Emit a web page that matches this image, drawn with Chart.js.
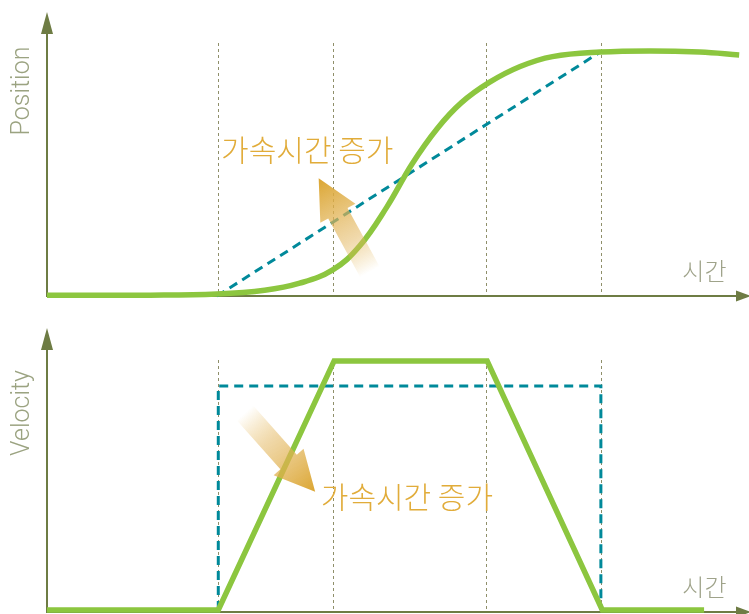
<!DOCTYPE html>
<html>
<head>
<meta charset="utf-8">
<script src="https://cdn.jsdelivr.net/npm/chart.js@4"></script>
<style>
  html,body{margin:0;padding:0;background:#fff;}
  #wrap{position:relative;width:749px;height:614px;overflow:hidden;}
  canvas{position:absolute;left:0;}
</style>
</head>
<body>
<div id="wrap">
  <canvas id="top" width="749" height="320" style="top:0"></canvas>
  <canvas id="bot" width="749" height="298" style="top:316px"></canvas>
</div>
<script>
// ---- data (time t: 0..100, value: 0..100) ----
const markerTimes = [24.3, 40.7, 62.5, 78.9];

const posCurveT = [0, 14.7, 24.2, 31.0, 36.0, 40.7, 44.5, 48.4, 52.0, 55.6, 59.0, 63.0, 67.4, 72.0, 78.8, 86.0, 93.0, 98.6];
const posCurveV = [0.3, 0.3, 0.7, 2.0, 4.5, 9.2, 17.5, 31.3, 46.5, 59.0, 68.0, 75.2, 80.8, 84.3, 85.9, 86.3, 85.9, 84.9];

const posLinearT = [24.2, 78.8];
const posLinearV = [0, 85.9];

const velTrapT = [0, 24.4, 40.9, 62.7, 79.1, 93.6];
const velTrapV = [0.7, 0.7, 88.4, 88.4, 0.7, 0.7];

const velRectT = [24.4, 24.4, 78.9, 78.9];
const velRectV = [0.7, 79.6, 79.6, 0.7];

const axisTitles = ['Position', 'Velocity'];
const timeLabel = '시간';
const noteText = '가속시간 증가';

// annotation anchors in data units
const topArrow = {from: [46.0, 8.5], to: [38.7, 41.5]};
const botArrow = {from: [28.2, 70.1], to: [38.2, 42.3]};
const topNote = [24.8, 51.4];
const botNote = [39.0, 40.5];
const timeLabelPos = [90.5, 9.0];

// ---- styles ----
const GREEN = '#8cc63f';
const TEAL = '#00899a';
const AXIS = '#6e7c44';
const TITLE = '#9ba381';
const NOTE = '#e1ac3a';
const TLABEL = '#9fa38a';

const zip = (a, b) => a.map((x, i) => ({x: x, y: b[i]}));

function drawArrowShape(ctx, x1, y1, x2, y2) {
  const dx = x2 - x1, dy = y2 - y1;
  const len = Math.hypot(dx, dy);
  const ux = dx / len, uy = dy / len;
  const nx = -uy, ny = ux;
  const headLen = 40, headHalf = 20, shaftHalf = 11;
  const bx = x2 - ux * headLen, by = y2 - uy * headLen;
  const grad = ctx.createLinearGradient(x1, y1, x2, y2);
  grad.addColorStop(0, 'rgba(225,172,58,0)');
  grad.addColorStop(0.35, 'rgba(228,185,100,0.55)');
  grad.addColorStop(1, 'rgba(219,165,48,1)');
  ctx.fillStyle = grad;
  ctx.beginPath();
  ctx.moveTo(x1 + nx * shaftHalf, y1 + ny * shaftHalf);
  ctx.lineTo(bx + nx * shaftHalf, by + ny * shaftHalf);
  ctx.lineTo(bx + nx * headHalf, by + ny * headHalf);
  ctx.lineTo(x2, y2);
  ctx.lineTo(bx - nx * headHalf, by - ny * headHalf);
  ctx.lineTo(bx - nx * shaftHalf, by - ny * shaftHalf);
  ctx.lineTo(x1 - nx * shaftHalf, y1 - ny * shaftHalf);
  ctx.closePath();
  ctx.fill();
}

function makeDeco(opts) {
  return {
    id: 'deco',
    beforeDatasetsDraw(chart) {
      const {ctx, chartArea: a, scales: {x, y}} = chart;
      ctx.save();
      // vertical dotted markers
      ctx.strokeStyle = '#8f8f6a';
      ctx.lineWidth = 1;
      ctx.setLineDash([3, 3]);
      markerTimes.forEach(t => {
        const px = Math.round(x.getPixelForValue(t)) + 0.5;
        ctx.beginPath();
        ctx.moveTo(px, opts.markerTop);
        ctx.lineTo(px, a.bottom);
        ctx.stroke();
      });
      ctx.setLineDash([]);
      // axes
      ctx.strokeStyle = AXIS;
      ctx.lineWidth = 2;
      ctx.beginPath();
      ctx.moveTo(a.left, a.top + 18);
      ctx.lineTo(a.left, a.bottom);
      ctx.lineTo(a.right - 10, a.bottom);
      ctx.stroke();
      ctx.fillStyle = AXIS;
      ctx.beginPath();
      ctx.moveTo(a.left, a.top);
      ctx.lineTo(a.left - 6, a.top + 22);
      ctx.lineTo(a.left + 6, a.top + 22);
      ctx.closePath();
      ctx.fill();
      ctx.beginPath();
      ctx.moveTo(a.right + 2, a.bottom);
      ctx.lineTo(a.right - 13, a.bottom - 5.5);
      ctx.lineTo(a.right - 13, a.bottom + 5.5);
      ctx.closePath();
      ctx.fill();
      // axis title
      ctx.save();
      ctx.translate(a.left - 24, opts.titleY);
      ctx.rotate(-Math.PI / 2);
      ctx.fillStyle = TITLE;
      ctx.font = '300 25px Roboto, "Liberation Sans", sans-serif';
      ctx.textAlign = 'center';
      ctx.textBaseline = 'middle';
      ctx.fillText(opts.title, 0, 0);
      ctx.restore();
      // time label
      ctx.fillStyle = TLABEL;
      ctx.font = '300 24px "Noto Sans CJK KR", sans-serif';
      ctx.textAlign = 'left';
      ctx.textBaseline = 'middle';
      ctx.fillText(timeLabel, x.getPixelForValue(timeLabelPos[0]), y.getPixelForValue(timeLabelPos[1]));
      ctx.restore();
    },
    afterDatasetsDraw(chart) {
      const {ctx, scales: {x, y}} = chart;
      ctx.save();
      const ar = opts.arrow;
      drawArrowShape(ctx,
        x.getPixelForValue(ar.from[0]), y.getPixelForValue(ar.from[1]),
        x.getPixelForValue(ar.to[0]), y.getPixelForValue(ar.to[1]));
      ctx.fillStyle = NOTE;
      ctx.font = '300 30px "Noto Sans CJK KR", sans-serif';
      ctx.textAlign = 'left';
      ctx.textBaseline = 'middle';
      ctx.fillText(noteText, x.getPixelForValue(opts.note[0]), y.getPixelForValue(opts.note[1]));
      ctx.restore();
    }
  };
}

function baseOptions(padBottom) {
  return {
    responsive: false,
    animation: false,
    devicePixelRatio: 1,
    layout: {padding: {left: 47, right: 0, top: 12, bottom: padBottom}},
    scales: {
      x: {type: 'linear', min: 0, max: 100, display: false},
      y: {min: 0, max: 100, display: false}
    },
    elements: {point: {radius: 0}},
    plugins: {legend: {display: false}, tooltip: {enabled: false}}
  };
}

new Chart(document.getElementById('top'), {
  type: 'line',
  data: {
    datasets: [
      {data: zip(posCurveT, posCurveV), borderColor: GREEN, borderWidth: 5.5, tension: 0.4, clip: false, order: 1},
      {data: zip(posLinearT, posLinearV), borderColor: TEAL, borderWidth: 3, borderDash: [9, 6], clip: false, order: 2}
    ]
  },
  options: baseOptions(24),
  plugins: [makeDeco({markerTop: 43, title: axisTitles[0], titleY: 91, arrow: topArrow, note: topNote})]
});

new Chart(document.getElementById('bot'), {
  type: 'line',
  data: {
    datasets: [
      {data: zip(velTrapT, velTrapV), borderColor: GREEN, borderWidth: 5.5, borderJoinStyle: 'miter', clip: false, order: 1},
      {data: zip(velRectT, velRectV), borderColor: TEAL, borderWidth: 3, borderDash: [9, 6], clip: false, order: 2}
    ]
  },
  options: baseOptions(2),
  plugins: [makeDeco({markerTop: 44, title: axisTitles[1], titleY: 97, arrow: botArrow, note: botNote})]
});
</script>
</body>
</html>
